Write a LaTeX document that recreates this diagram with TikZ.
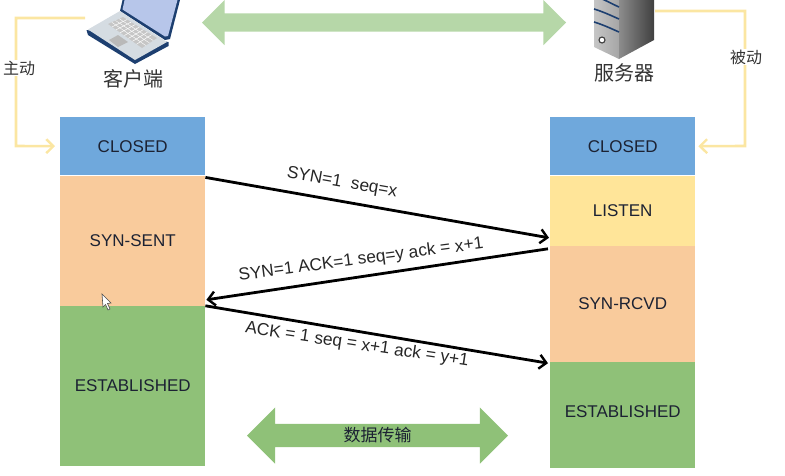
\documentclass[tikz,border=0pt]{standalone}
\usepackage{fontspec}
\setmainfont{Liberation Sans}
\newfontfamily\cjk{Noto Sans CJK SC}
\usepackage{xcolor}
\definecolor{CLOSEDCOLOR}{HTML}{6FA8DC}
\definecolor{SENTCOLOR}{HTML}{F9CB9C}
\definecolor{LISTENCOLOR}{HTML}{FFE599}
\definecolor{ESTABCOLOR}{HTML}{8FC178}
\definecolor{LINKCOLOR}{HTML}{B6D7A8}
\definecolor{WIRECOLOR}{HTML}{FBE6A2}
\definecolor{TEXTCOLOR}{HTML}{1C2233}
\definecolor{NAVYCOLOR}{HTML}{1D3F70}
\definecolor{SCREENCOLOR}{HTML}{B7C6EA}
\definecolor{BASECOLOR}{HTML}{D5DCE2}
\usetikzlibrary{shapes,shapes.arrows,arrows.meta,positioning,calc}
\tikzset{
  state-style/.style 2 args = {
    rectangle, fill=#1,
    minimum width=145pt,
    minimum height=#2,
    inner sep=0pt,
    text=TEXTCOLOR,
    font=\fontsize{17}{18}\selectfont
  },
  msg-style/.style = {
    draw=black, line width=2.8pt,
    -{Straight Barb[length=7pt,width=14pt,line width=2.4pt]}
  },
  msg-label-style/.style = {
    inner sep=0pt, text=black!85,
    font=\fontsize{17.3}{18}\selectfont
  },
  wire-style/.style = {
    draw=WIRECOLOR, line width=2.6pt,
    -{Straight Barb[length=7pt,width=14pt,line width=2.4pt]}
  },
  wire-label-style/.style = {
    fill=white, inner sep=1pt, text=black!80,
    font=\cjk\fontsize{16}{18}\selectfont
  },
  host-label-style/.style = {
    inner sep=0pt, text=black!80,
    font=\cjk\fontsize{20}{22}\selectfont
  },
  link-style/.style n args = {4}{
    double arrow, fill=#1,
    minimum height=#2,
    double arrow head extend=#3,
    double arrow tip angle=90,
    inner xsep=0pt,
    inner ysep=#4
  }
}
\begin{document}
\begin{tikzpicture}[x=1pt,y=-1pt]
    \clip (0,0) rectangle (785,475);

    %%% client states
    \node[state-style={CLOSEDCOLOR}{58pt},anchor=north west] (closedClient) at (60,117) {CLOSED};
    \node[state-style={SENTCOLOR}{130pt},below=0pt of closedClient] (synSent) {SYN-SENT};
    \node[state-style={ESTABCOLOR}{160pt},below=0pt of synSent] (estabClient) {ESTABLISHED};

    %%% server states
    \node[state-style={CLOSEDCOLOR}{58pt},anchor=north west] (closedServer) at (550,117) {CLOSED};
    \node[state-style={LISTENCOLOR}{70pt},below=0pt of closedServer] (listenServer) {LISTEN};
    \node[state-style={SENTCOLOR}{116pt},below=0pt of listenServer] (synRcvd) {SYN-RCVD};
    \node[state-style={ESTABCOLOR}{106pt},text depth=7pt,below=0pt of synRcvd] (estabServer) {ESTABLISHED};

    %%% laptop
    \fill[fill=NAVYCOLOR] (123,-2) -- (120,11) -- (165,40) -- (170,39) -- (180.5,-2) -- cycle;
    \fill[fill=SCREENCOLOR] (125,-2) -- (122.5,9.5) -- (165,36.5) -- (168,36) -- (178,-2) -- cycle;
    \fill[fill=NAVYCOLOR] (86.5,30) -- (88,35) -- (135,64) -- (168.5,46) -- (168.5,42) -- cycle;
    \fill[fill=BASECOLOR] (88,29.5) -- (120,11) -- (167,42) -- (135,60) -- cycle;
    \fill[fill=gray!45] (108,24) -- (123,17) -- (157,38) -- (142,48) -- cycle;
    \foreach \k in {0.12,0.24,...,0.9} {
      \draw[white,line width=0.5pt] ($(108,24)!\k!(142,48)$) -- ($(123,17)!\k!(157,38)$);
    }
    \foreach \k in {0.25,0.5,0.75} {
      \draw[white,line width=0.4pt] ($(108,24)!\k!(123,17)$) -- ($(142,48)!\k!(157,38)$);
    }
    \fill[fill=gray!55] (109,40) -- (118,35) -- (128,42) -- (118,47) -- cycle;
    \coordinate (laptop) at (85,18);
    \node[host-label-style] (clientLabel) at (133,79) {客户端};

    %%% server
    \path[left color=gray!45,right color=gray!70] (594,-2) -- (619,-2) -- (619,59) -- (594,47) -- cycle;
    \path[left color=black!45,right color=black!75] (619,-2) -- (654,-2) -- (654,40) -- (619,59) -- cycle;
    \foreach \ya/\yb in {-4/7,9/19,22/32} {
      \draw[line width=1.6pt,draw=NAVYCOLOR] (594,\ya) .. controls (604,\ya+3) and (612,\yb-3) .. (619,\yb);
    }
    \fill[fill=black!75] (602,40) circle (3.6pt);
    \fill[fill=white] (602,40) circle (2.2pt);
    \coordinate (server) at (655,11);
    \node[host-label-style] (serverLabel) at (624,73) {服务器};

    %%% top and bottom links
    \node[link-style={LINKCOLOR}{364pt}{13.5pt}{9pt}] (topLink) at (384,22.5) {};
    \node[link-style={ESTABCOLOR}{261pt}{16.5pt}{3.5pt},text=TEXTCOLOR,font=\cjk\fontsize{17}{18}\selectfont] (dataLink) at (377.5,435.5) {数据传输};

    %%% active and passive open
    \draw[wire-style] (laptop) -| (16,146) -- ([xshift=-5pt]closedClient.west);
    \draw[wire-style] (server) -| (745,146) -- ([xshift=3pt]closedServer.east);
    \node[wire-label-style] (activeLabel) at (19,68) {主动};
    \node[wire-label-style] (passiveLabel) at (746,57) {被动};

    %%% handshake
    \draw[msg-style] ([yshift=-2pt]closedClient.south east) -- ([xshift=-1pt,yshift=8pt]listenServer.south west);
    \draw[msg-style] ([xshift=-2pt,yshift=-3pt]listenServer.south west) -- ([xshift=1pt,yshift=6pt]estabClient.north east);
    \draw[msg-style] (estabClient.north east) -- ([xshift=-2pt,yshift=-1pt]estabServer.north west);
    \node[msg-label-style,rotate=-10] (synLabel) at (342,183) {SYN=1\ \ seq=x};
    \node[msg-label-style,rotate=7.5] (synAckLabel) at (361,260) {SYN=1 ACK=1 seq=y ack = x+1};
    \node[msg-label-style,rotate=-8.5] (ackLabel) at (357,345) {ACK = 1 seq = x+1 ack = y+1};

    %%% mouse pointer
    \draw[fill=white,draw=black!70,line width=0.6pt] (102,294) -- (103,307) -- (105.5,304.5) -- (108,310) -- (110,309) -- (107.5,303.5) -- (111,303) -- cycle;
\end{tikzpicture}
\end{document}
